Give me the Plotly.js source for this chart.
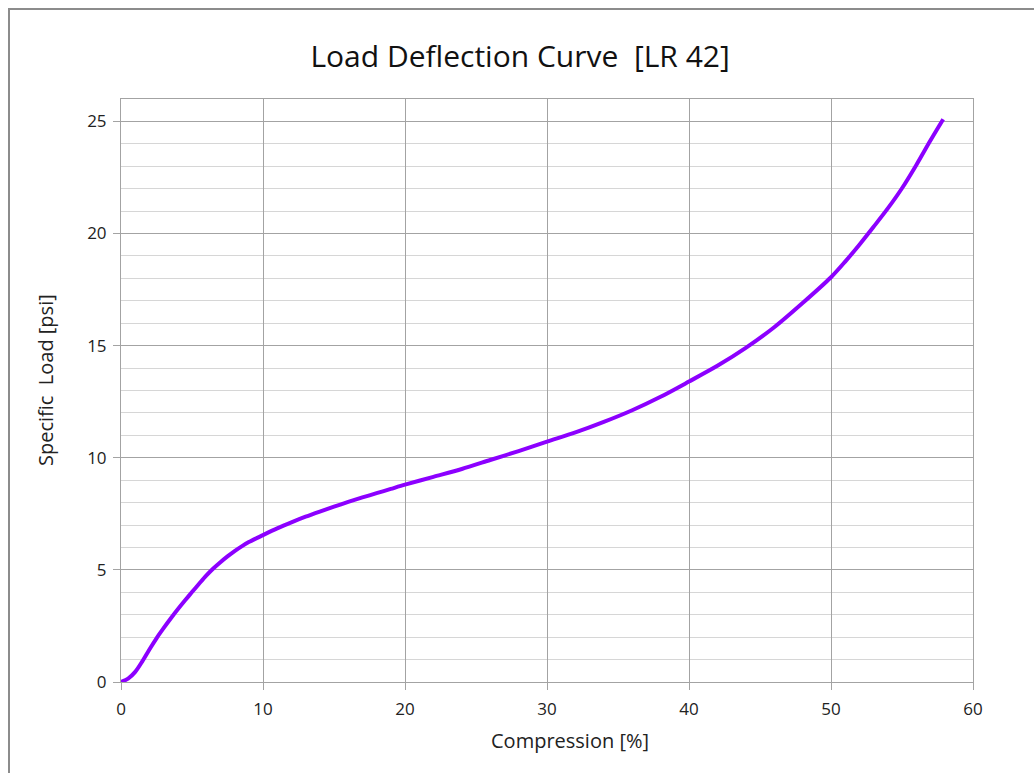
<!DOCTYPE html>
<html>
<head>
<meta charset="utf-8">
<script src="https://cdn.plot.ly/plotly-3.0.1.min.js"></script>
<style>
  html, body { margin: 0; padding: 0; background: #fff; }
  #wrap { position: relative; width: 1034px; height: 773px; overflow: hidden; }
  #chart { position: absolute; left: 0; top: 0; width: 1034px; height: 773px; }
  #frame { position: absolute; left: 8px; top: 8px; width: 1100px; height: 900px;
           border-top: 2px solid #8c8c8c; border-left: 2px solid #8c8c8c; pointer-events: none; }
</style>
</head>
<body>
<div id="wrap">
  <div id="chart"></div>
  <div id="frame"></div>
</div>
<script>
const chartTitle = "Load Deflection Curve  [LR 42]";
const xTitle = "Compression [%]";
const yTitle = "Specific  Load [psi]";

const compression = [0, 0.5, 1, 1.5, 2, 2.5, 3, 3.5, 4, 4.5, 5, 5.5, 6, 6.5, 7, 7.5, 8, 8.5, 9, 10,
  11, 12, 13, 14, 15, 16, 17, 18, 19, 20, 22, 24, 26, 28, 30, 32, 34, 36, 38, 40,
  42, 44, 46, 48, 50, 51, 52, 53, 54, 55, 56, 57, 57.9];
const specificLoad = [0, 0.15, 0.45, 0.92, 1.45, 1.95, 2.4, 2.83, 3.24, 3.63, 4.01, 4.38, 4.74, 5.06, 5.34, 5.6, 5.84, 6.05, 6.24, 6.55,
  6.85, 7.12, 7.37, 7.6, 7.82, 8.03, 8.23, 8.42, 8.61, 8.8, 9.15, 9.5, 9.9, 10.3, 10.72, 11.13, 11.6, 12.12, 12.72, 13.4,
  14.1, 14.9, 15.82, 16.9, 18.05, 18.75, 19.5, 20.3, 21.12, 22.02, 23.05, 24.15, 25.1];

const xTicks = [0, 10, 20, 30, 40, 50, 60];
const yTicks = [0, 5, 10, 15, 20, 25];

const fontFam = "Open Sans, Liberation Sans, sans-serif";
const majorGrid = "#a3a3a3";
const minorGrid = "#d6d6d6";

const trace = {
  x: compression,
  y: specificLoad,
  type: "scatter",
  mode: "lines",
  line: { color: "#8c00ff", width: 4, shape: "spline", smoothing: 0.8 },
  hoverinfo: "x+y"
};

const layout = {
  width: 1034,
  height: 773,
  margin: { l: 121, r: 61, t: 99, b: 91 },
  paper_bgcolor: "#ffffff",
  plot_bgcolor: "#ffffff",
  showlegend: false,
  font: { family: fontFam, color: "#222222" },
  title: {
    text: chartTitle,
    font: { family: fontFam, size: 30, color: "#111111" },
    x: 0.503, xanchor: "center",
    y: 0.927, yref: "container", yanchor: "middle"
  },
  xaxis: {
    range: [0, 60],
    tickvals: xTicks,
    ticktext: xTicks.map(String),
    showgrid: true,
    gridcolor: majorGrid,
    gridwidth: 1,
    zeroline: false,
    showline: true,
    linecolor: majorGrid,
    linewidth: 1,
    mirror: true,
    ticks: "outside",
    ticklen: 7,
    tickcolor: majorGrid,
    ticklabelstandoff: 5,
    tickfont: { family: fontFam, size: 17, color: "#222222" }
  },
  yaxis: {
    range: [0, 26],
    tickvals: yTicks,
    ticktext: yTicks.map(String),
    showgrid: true,
    gridcolor: majorGrid,
    gridwidth: 1,
    zeroline: false,
    showline: true,
    linecolor: majorGrid,
    linewidth: 1,
    mirror: true,
    ticks: "outside",
    ticklen: 7,
    tickcolor: majorGrid,
    ticklabelstandoff: 3,
    tickfont: { family: fontFam, size: 17, color: "#222222" },
    minor: { dtick: 1, tick0: 0, showgrid: true, gridcolor: minorGrid, gridwidth: 1, ticks: "" }
  },
  annotations: [
    {
      text: xTitle, xref: "paper", yref: "paper",
      x: 0.527, y: -0.0995, xanchor: "center", yanchor: "middle",
      showarrow: false, font: { family: fontFam, size: 20, color: "#222222" }
    },
    {
      text: yTitle, xref: "paper", yref: "paper",
      x: -0.0892, y: 0.518, xanchor: "center", yanchor: "middle", textangle: -90,
      showarrow: false, font: { family: fontFam, size: 20, color: "#222222" }
    }
  ]
};

Plotly.newPlot("chart", [trace], layout, { displayModeBar: false, staticPlot: true });
</script>
</body>
</html>
